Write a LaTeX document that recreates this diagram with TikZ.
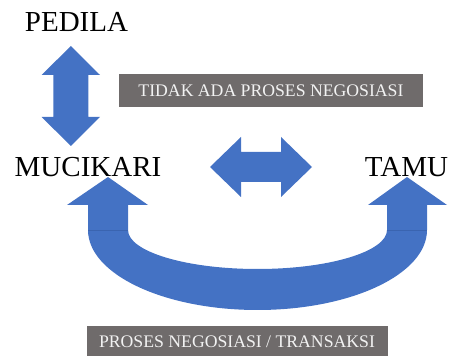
\documentclass[tikz,border=0pt]{standalone}
\usepackage{fontspec}
\setmainfont{Liberation Serif}
\definecolor{arrblue}{HTML}{4472C4}
\definecolor{seamblue}{HTML}{3A64B0}
\definecolor{boxgray}{HTML}{6F6B6B}
\definecolor{boxtext}{HTML}{F2F2F2}
\begin{document}
\begin{tikzpicture}[x=1pt,y=1pt,
  bigtext/.style={inner sep=0pt, anchor=base, font=\fontsize{29}{34}\selectfont},
  boxlabel/.style={inner sep=0pt, anchor=base, text=boxtext, font=\fontsize{17.7}{20}\selectfont},
  blockarrow/.style={fill=arrblue, draw=none}]
\useasboundingbox (0,0) rectangle (450,356);
% gray boxes
\fill[boxgray] (119,249) rectangle (423,282);
\fill[boxgray] (87,-2) rectangle (388,30);
\node[boxlabel] (box1) at (271,259) {TIDAK ADA PROSES NEGOSIASI};
\node[boxlabel] (box2) at (237,8) {PROSES NEGOSIASI / TRANSAKSI};
% labels
\node[bigtext] (pedila) at (76.5,324) {PEDILA};
\node[bigtext] (mucikari) at (88,179) {MUCIKARI};
\node[bigtext] (tamu) at (406.5,179) {TAMU};
% vertical double arrow
\fill[blockarrow] (70.8,310) -- (100,281) -- (88.3,281) -- (88.3,239) -- (100,239)
  -- (70.8,210) -- (41.7,239) -- (53.3,239) -- (53.3,281) -- (41.7,281) -- cycle;
% horizontal double arrow
\fill[blockarrow] (210,189) -- (241,219) -- (241,204) -- (281,204) -- (281,219)
  -- (312,189) -- (281,159) -- (281,174) -- (241,174) -- (241,159) -- cycle;
% U-turn double arrow
\fill[blockarrow] (88,126) -- (88,151) -- (67,151) -- (108,179) -- (148,151) -- (128,151)
  -- (128,126) arc[start angle=180, end angle=360, x radius=129.5pt, y radius=39pt]
  -- (387,151) -- (368,151) -- (407,179) -- (447,151) -- (427,151)
  -- (427,126) arc[start angle=0, end angle=-180, x radius=169.5pt, y radius=80pt] -- cycle;
\draw[seamblue, line width=0.5pt] (88,126) -- (128,126);
\draw[seamblue, line width=0.5pt] (387,126) -- (427,126);
\end{tikzpicture}
\end{document}
